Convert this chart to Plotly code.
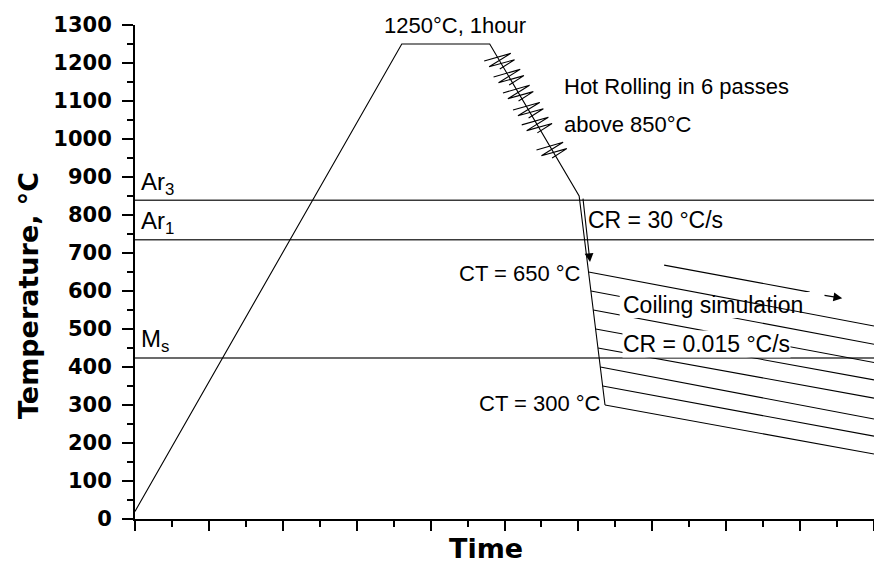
import numpy as np
import plotly.graph_objects as go

# ---------------- data ----------------
# thermal path: reheating, soaking, hot rolling, fast cooling
path_time = [0.0, 3.61, 4.80, 6.01, 6.36]
path_temp = [20, 1250, 1250, 850, 300]

# transformation temperatures
trans_labels = ["Ar<sub>3</sub>", "Ar<sub>1</sub>", "M<sub>s</sub>"]
trans_temp = [839, 735, 424]

# coiling simulation lines (start temperature on cooling line -> end at right)
coil_start_temp = [650, 600, 550, 500, 450, 400, 350, 300]
coil_end_temp = [508, 460, 412, 366, 318, 263, 218, 171]
coil_end_time = 10.0

# hot rolling passes (temperature of each pass mark)
pass_temp = [1205, 1163, 1121, 1076, 1037, 971]

# CR = 30 C/s arrow (tail -> tip)
cr_arrow_time = [6.06, 6.157]
cr_arrow_temp = [847, 676]

# coiling direction arrow
coil_arrow_time = [7.16, 9.13, 9.31, 9.57]
coil_arrow_temp = [668, 597, 589, 581]

y_tick_vals = list(range(0, 1400, 100))

# ---------------- layout geometry ----------------
W, H = 874, 564
PX0, PY0, PY1 = 135, 519, 25          # plot origin / top in page pixels
ML, MR, MT, MB = PX0, 0, PY1, H - PY0
X_RANGE = [0, 10]
Y_RANGE = [0, 1300]
plot_w = W - ML - MR
plot_h = H - MT - MB
sx = plot_w / (X_RANGE[1] - X_RANGE[0])   # px per time unit
sy = plot_h / (Y_RANGE[1] - Y_RANGE[0])   # px per degree

fig = go.Figure()
LINE = dict(color="black", width=1.1)

# transformation lines
for t in trans_temp:
    fig.add_trace(go.Scatter(x=X_RANGE, y=[t, t], mode="lines",
                             line=dict(color="#3a3a3a", width=1.5),
                             hoverinfo="skip", showlegend=False))

# main path
fig.add_trace(go.Scatter(x=path_time, y=path_temp, mode="lines", line=LINE,
                         showlegend=False))

# coiling lines (the first one is drawn as a shape above the label box)
cool_T = [path_temp[4], path_temp[3]]
cool_t = [path_time[4], path_time[3]]
coil_start_time = [float(np.interp(ts, cool_T, cool_t)) for ts in coil_start_temp]
for xs, ts, te in list(zip(coil_start_time, coil_start_temp, coil_end_temp))[1:]:
    fig.add_trace(go.Scatter(x=[xs, coil_end_time], y=[ts, te], mode="lines",
                             line=LINE, showlegend=False))

# rolling pass zig-zags along the descending segment
x0, y0 = path_time[2], path_temp[2]
x1, y1 = path_time[3], path_temp[3]
dpx = np.array([(x1 - x0) * sx, (y1 - y0) * sy])  # screen (right, up)
dpx = dpx / np.hypot(*dpx)
ang = np.radians(24)
npx = np.array([np.cos(ang), np.sin(ang)])
amp, step = 13.5, 4.3
pattern = [(-1.5, -1), (-0.6, 1), (0.2, -0.9), (1.1, 1), (1.7, -0.3)]
for T in pass_temp:
    xc = x0 + (x1 - x0) * (y0 - T) / (y0 - y1)
    zx, zy = [], []
    for a_along, s in pattern:
        p = a_along * step * dpx + s * amp * npx
        zx.append(xc + p[0] / sx)
        zy.append(T + p[1] / sy)
    fig.add_trace(go.Scatter(x=zx, y=zy, mode="lines", line=LINE, showlegend=False))

# coiling arrow line (shaft part)
fig.add_trace(go.Scatter(x=coil_arrow_time[:2], y=coil_arrow_temp[:2], mode="lines",
                         line=LINE, showlegend=False))

TXT = dict(family="Liberation Sans, Arial, sans-serif", size=22, color="black")
TXT23 = dict(family="Liberation Sans, Arial, sans-serif", size=23, color="black")

ann = []
def label(x, y, text, xanchor="left", font=TXT, bg=None):
    d = dict(x=x, y=y, xref="x", yref="y", text=text, showarrow=False,
             xanchor=xanchor, yanchor="middle", font=font, borderpad=0)
    if bg:
        d["bgcolor"] = bg
    ann.append(d)

label(3.356, 1299, "1250°C, 1hour")
label(5.79, 1137, "Hot Rolling in 6 passes")
label(5.79, 1037, "above 850°C")
label(6.11, 788, "CR = 30 °C/s", font=TXT23)
label(6.045, 645, "CT = 650 °C", xanchor="right")
label(6.315, 303, "CT = 300 °C", xanchor="right")
coil_lx, coil_ly = 6.586, 563
label(coil_lx, coil_ly, "Coiling simulation", font=TXT23)
label(6.586, 460, "CR = 0.015 °C/s", font=TXT23, bg="white")

# white box behind "Coiling simulation" (hides the lines under it) and the
# first coiling line drawn over it, as in the original figure
shapes = [
    dict(type="rect", xref="x", yref="y", layer="above",
         x0=coil_lx - 2 / sx, x1=coil_lx + 193 / sx,
         y0=coil_ly - 13 / sy, y1=coil_ly + 13 / sy,
         fillcolor="white", line=dict(width=0)),
    dict(type="line", xref="x", yref="y", layer="above",
         x0=coil_start_time[0], y0=coil_start_temp[0],
         x1=coil_end_time, y1=coil_end_temp[0],
         line=dict(color="black", width=1.1)),
]

LBL = dict(family="Liberation Sans, Arial, sans-serif", size=24, color="black")
for name, t in zip(trans_labels, trans_temp):
    label(0.068, t + 45, name, font=LBL)

# arrows
ann.append(dict(x=cr_arrow_time[1], y=cr_arrow_temp[1], ax=cr_arrow_time[0],
                ay=cr_arrow_temp[0], xref="x", yref="y", axref="x", ayref="y",
                text="", showarrow=True, arrowhead=2, arrowsize=1.6,
                arrowwidth=1.1, arrowcolor="black", standoff=0))
ann.append(dict(x=coil_arrow_time[3], y=coil_arrow_temp[3], ax=coil_arrow_time[2],
                ay=coil_arrow_temp[2], xref="x", yref="y", axref="x", ayref="y",
                text="", showarrow=True, arrowhead=2, arrowsize=1.6,
                arrowwidth=1.1, arrowcolor="black", standoff=0))

# axis titles
TITLE = dict(family="DejaVu Sans", size=27, color="black", weight="bold")
ann.append(dict(x=(28 - PX0) / plot_w, y=(PY0 - 296) / plot_h, xref="paper",
                yref="paper", text="Temperature, °C", textangle=-90, showarrow=False,
                xanchor="center", yanchor="middle", font=TITLE))
ann.append(dict(x=(486 - PX0) / plot_w, y=(PY0 - 548) / plot_h, xref="paper",
                yref="paper", text="Time", showarrow=False,
                xanchor="center", yanchor="middle", font=TITLE))

fig.update_layout(
    width=W, height=H,
    margin=dict(l=ML, r=MR, t=MT, b=MB, pad=0),
    paper_bgcolor="white", plot_bgcolor="white",
    showlegend=False,
    annotations=ann,
    shapes=shapes,
    xaxis=dict(range=X_RANGE, showgrid=False, zeroline=False, showline=True,
               linecolor="black", linewidth=2, ticks="outside", ticklen=10,
               tickwidth=2, tickcolor="black", dtick=1, tick0=0,
               showticklabels=False,
               minor=dict(ticks="outside", ticklen=6, tickwidth=2,
                          tickcolor="black", dtick=0.5, tick0=0, showgrid=False)),
    yaxis=dict(range=Y_RANGE, showgrid=False, zeroline=False, showline=True,
               linecolor="black", linewidth=2, ticks="outside", ticklen=11,
               tickwidth=2, tickcolor="black", tickvals=y_tick_vals,
               ticklabelstandoff=6,
               tickfont=dict(family="DejaVu Sans", size=21, color="black",
                             weight="bold"),
               minor=dict(ticks="outside", ticklen=6, tickwidth=2,
                          tickcolor="black", dtick=50, tick0=0, showgrid=False)),
)

fig.write_html(
    "out.html",
    config={"displayModeBar": False},
    post_script="document.body.style.margin='0px';"
                "document.body.style.overflow='hidden';",
)
